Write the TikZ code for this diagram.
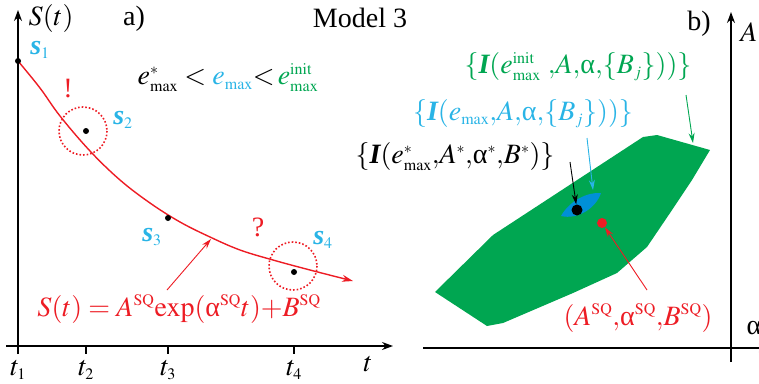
\documentclass[tikz,border=0pt]{standalone}
\usepackage{amsmath}
\usepackage{mathptmx}
\usepackage{fontspec}
\setmainfont{Liberation Serif}
\DeclareMathSizes{28}{28}{16}{12}
\usetikzlibrary{arrows.meta}
\definecolor{cy}{RGB}{41,180,230}
\definecolor{gr}{RGB}{0,166,81}
\definecolor{rd}{RGB}{237,28,36}
\definecolor{bl}{RGB}{0,144,215}
\newcommand{\bI}{\mbox{\bfseries\itshape I}}
\newcommand{\bs}{\mbox{\bfseries\itshape s}}
\newcommand{\al}{\text{α}}
\newcommand{\mx}{\mathrm{max}}
\begin{document}
\begin{tikzpicture}[x=1pt,y=-1pt,
  font=\fontsize{28}{32}\selectfont,
  axis/.style={line width=1.2pt,-{Stealth[length=11pt,width=8pt]}},
  tick/.style={line width=1.2pt},
  curve/.style={rd,line width=1.4pt},
  pointer/.style={line width=0.9pt,-{Stealth[length=10pt,width=6pt]}},
  ring/.style={rd,dotted,line width=1.6pt},
  dot/.style={circle,fill=black,inner sep=0pt,minimum size=6pt},
  slab/.style={cy,inner sep=0pt},
  lab/.style={inner sep=0pt}]
\useasboundingbox (0,0) rectangle (759,383);
% ---------- panel a ----------
\coordinate (Sbot) at (18,354);
\coordinate (Stop) at (18,10);
\coordinate (tleft) at (6,346);
\coordinate (tright) at (393,346);
\draw[axis] (Sbot) -- (Stop);
\draw[axis] (tleft) -- (tright);
\foreach \n/\x in {2/86,3/168,4/294}{
  \coordinate (tk\n) at (\x,346);
  \coordinate (tb\n) at (\x,354);
  \draw[tick] (tk\n) -- (tb\n);
}
\node[lab] (t1) at (18,370) {$t_1$};
\node[lab] (t2) at (86,370) {$t_2$};
\node[lab] (t3) at (168,370) {$t_3$};
\node[lab] (t4) at (294,370) {$t_4$};
\node[lab] (tl) at (368,364) {$t$};
\node[lab] (St) at (51,18) {$S(t)$};
\node[lab] (pa) at (134,19) {a)};
\node[lab] (model) at (360,18) {Model 3};
% curve
\draw[curve,-{Stealth[length=11pt,width=7pt]}] plot[smooth,tension=0.6] coordinates
 {(18,61) (40,88) (60,116) (90,151) (120,180) (150,203) (180,222) (210,237) (240,250) (273,260) (310,270) (353,281)};
\node[dot] (s1d) at (18,61) {};
\node[dot] (s2d) at (86,131) {};
\node[dot] (s3d) at (168,218) {};
\node[dot] (s4d) at (294,272) {};
\draw[ring] (83,131) circle (24);
\draw[ring] (293,266) circle (24);
\node[slab] (s1) at (40,50) {$\bs_1$};
\node[slab] (s2) at (123,120) {$\bs_2$};
\node[slab] (s3) at (152,237) {$\bs_3$};
\node[slab] (s4) at (323,240) {$\bs_4$};
\node[lab,rd] (excl) at (68,89) {!};
\node[lab,rd] (ques) at (258,227) {?};
\node[lab] (ineq) at (228,78) {$e^{*}_{\mx} < {\color{cy}e_{\mx}}{<}\,{\color{gr}e^{\mathrm{init}}_{\mx}}$};
\node[lab,rd] (eq) at (179,309) {$S(t) = A^{\mathrm{SQ}}\mathrm{exp}(\al^{\mathrm{SQ}}t){+}B^{\mathrm{SQ}}$};
\coordinate (eqarr) at (167,290);
\coordinate (curvept) at (211,239);
\draw[pointer,rd] (eqarr) -- (curvept);
% ---------- panel b ----------
\coordinate (Abot) at (731,362);
\coordinate (Atop) at (731,12);
\coordinate (al) at (423,348);
\coordinate (ar) at (770,348);
\draw[axis] (Abot) -- (Atop);
\draw[axis] (al) -- (ar);
\node[lab] (pb) at (699,24) {b)};
\node[lab] (Alab) at (749,32) {$A$};
\node[lab] (alab) at (754,328) {\al};
\fill[gr] (435,292) -- (493,235) -- (643,137) -- (657,135) -- (710,150) -- (692,180)
  -- (670,213) -- (647,247) -- (617,273) -- (573,293) -- (503,323) -- (487,326) -- cycle;
\fill[bl] (561,216) .. controls (570,200) and (588,192) .. (601,193)
  .. controls (596,208) and (578,220) .. cycle;
\node[circle,fill=black,inner sep=0pt,minimum size=11pt] (star) at (577,210) {};
\node[circle,fill=rd,inner sep=0pt,minimum size=10pt] (sq) at (602,223) {};
\coordinate (grtip) at (693,143);
\coordinate (cytip) at (593,190);
\node[lab,gr] (glab) at (578,67) {$\{\bI(e^{\mathrm{init}}_{\mx}\ {,}A{,}\al{,}\{B_j\}))\}$};
\node[lab,cy] (clab) at (523,114) {$\{\bI(e_{\mx}{,}A{,}\al{,}\{B_j\}))\}$};
\node[lab] (klab) at (455,157) {$\{\bI(e^{*}_{\mx}{,}A^{*}{,}\al^{*}{,}B^{*})\}$};
\node[lab,rd] (rlab) at (638,318) {$(A^{\mathrm{SQ}}{,}\al^{\mathrm{SQ}}{,}B^{\mathrm{SQ}})$};
\coordinate (gfrom) at (686,95);
\coordinate (cfrom) at (587,138);
\coordinate (kfrom) at (570,162);
\coordinate (rfrom) at (647,290);
\draw[pointer,gr] (gfrom) -- (grtip);
\draw[pointer,cy] (cfrom) -- (cytip);
\draw[pointer] (kfrom) -- (star);
\draw[pointer,rd] (rfrom) -- (sq);
\end{tikzpicture}
\end{document}
